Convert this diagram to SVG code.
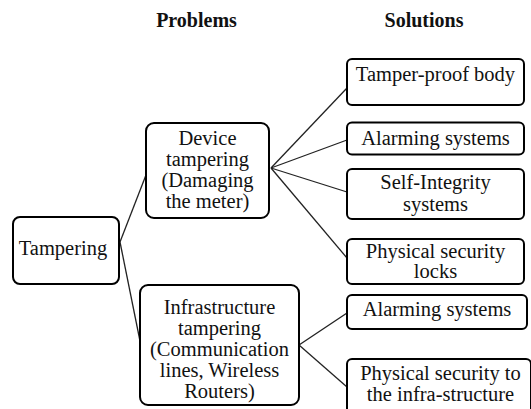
<svg xmlns="http://www.w3.org/2000/svg" width="531" height="409" viewBox="0 0 531 409">
<style>
.box{fill:#fff;stroke:#000;stroke-width:2}
text{font-family:'Liberation Serif','Times New Roman',serif;font-size:20.5px;fill:#111;text-anchor:middle}
.h{font-size:20px;font-weight:bold}
.c{stroke:#222;stroke-width:1.3;fill:none}
</style>
<rect width="531" height="409" fill="#fff"/>
<text class="h" x="196.5" y="27">Problems</text>
<text class="h" x="424" y="27">Solutions</text>
<g id="connectors">
<line class="c" x1="120" y1="242" x2="146" y2="175"/>
<line class="c" x1="120" y1="242" x2="140" y2="341"/>
<line class="c" x1="271" y1="168" x2="347" y2="88"/>
<line class="c" x1="271" y1="168" x2="347" y2="140"/>
<line class="c" x1="271" y1="168" x2="347" y2="192"/>
<line class="c" x1="271" y1="168" x2="347" y2="258"/>
<line class="c" x1="299" y1="345" x2="347" y2="313"/>
<line class="c" x1="299" y1="345" x2="347" y2="387"/>
</g>
<g id="tampering">
<rect class="box" x="13" y="217" width="106" height="67" rx="7"/>
<text x="63" y="255">Tampering</text>
</g>
<g id="device">
<rect class="box" x="146" y="123" width="123" height="95" rx="8"/>
<text x="207.5" y="145">Device</text>
<text x="207.5" y="166">tampering</text>
<text x="207.5" y="186.5">(Damaging</text>
<text x="207.5" y="207.5">the meter)</text>
</g>
<g id="infrastructure">
<rect class="box" x="140" y="285" width="159" height="120" rx="8"/>
<text x="219.5" y="314">Infrastructure</text>
<text x="219.5" y="335">tampering</text>
<text x="219.5" y="356">(Communication</text>
<text x="219.5" y="377">lines, Wireless</text>
<text x="219.5" y="397.5">Routers)</text>
</g>
<g id="tamperproof">
<rect class="box" x="347" y="59" width="177" height="46" rx="5"/>
<text x="435.5" y="81">Tamper-proof body</text>
</g>
<g id="alarming1">
<rect class="box" x="347" y="122.5" width="177" height="32" rx="5"/>
<text x="435.5" y="145">Alarming systems</text>
</g>
<g id="selfintegrity">
<rect class="box" x="347" y="169" width="177" height="50" rx="5"/>
<text x="435.5" y="189">Self-Integrity</text>
<text x="435.5" y="210.5">systems</text>
</g>
<g id="physicallocks">
<rect class="box" x="347" y="239" width="177" height="45" rx="5"/>
<text x="435.5" y="258">Physical security</text>
<text x="435.5" y="278">locks</text>
</g>
<g id="alarming2">
<rect class="box" x="347" y="295" width="180" height="34" rx="5"/>
<text x="437" y="316">Alarming systems</text>
</g>
<g id="physicalinfra">
<rect class="box" x="347" y="359" width="184" height="60" rx="5"/>
<text x="440.5" y="380">Physical security to</text>
<text x="440.5" y="401">the infra-structure</text>
</g>
</svg>
